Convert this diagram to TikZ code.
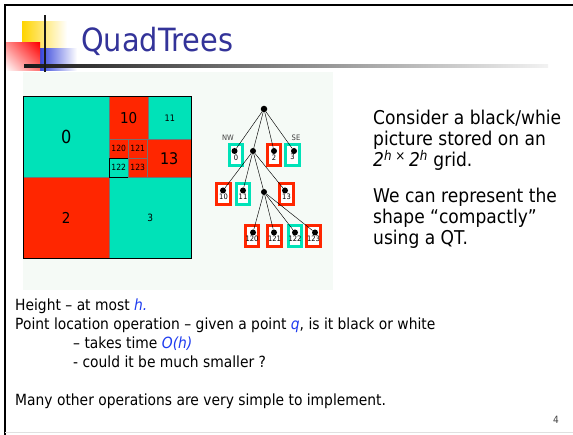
\documentclass[tikz,border=0pt]{standalone}
\usepackage{fontspec}
\setmainfont{DejaVu Sans}[FakeStretch=0.9]
\usetikzlibrary{positioning, calc, shadows, shadings}

\definecolor{qteal}{RGB}{0,226,184}
\definecolor{qred}{RGB}{255,38,0}
\definecolor{titleblue}{RGB}{51,51,153}
\definecolor{hiblue}{RGB}{30,60,240}
\definecolor{panelgreen}{RGB}{245,250,246}
\definecolor{decoyellow}{RGB}{255,212,0}
\definecolor{decoblue}{RGB}{55,70,220}

\newcommand{\fsz}[1]{\fontsize{#1}{#1}\selectfont}

\tikzset{
  cell/.style={draw=black!55, line width=0.5pt, anchor=north west, inner sep=0pt},
  blackcell/.style={cell, fill=qred},
  whitecell/.style={cell, fill=qteal},
  leaf/.style={draw=#1, line width=3pt, fill=white, minimum width=13.5pt, minimum height=21pt,
    inner xsep=0pt, inner ysep=3.5pt, text height=11.5pt, text depth=1.5pt, font=\fsz{7.5},
    drop shadow={shadow xshift=1.3pt, shadow yshift=-1.3pt, opacity=0.3}},
  dot/.style={circle, fill=black, inner sep=0pt, minimum size=6pt},
  branch/.style={line width=0.45pt},
  textline/.style={anchor=base west, inner sep=0pt},
}

\begin{document}
\begin{tikzpicture}[x=1pt, y=-1pt]
    \useasboundingbox (0,0) rectangle (573,435);
    \fill[white] (0,0) rectangle (573,435);

    % Slide frame
    \draw[line width=2pt] (5,435) -- (5,5.5) -- (573,5.5);
    \draw[black!12, line width=1pt] (5,432.5) -- (573,432.5);

    % Title decoration
    \shade[left color=decoyellow, middle color=decoyellow, right color=white] (22,22) rectangle (67,49);
    \shade[left color=decoblue, middle color=decoblue!60!white, right color=white] (40,49) rectangle (77,71);
    \shade[upper right=red, upper left=red!45!white, lower right=red!55!white, lower left=white] (6,43) rectangle (40,71);
    \shade[left color=black!90, middle color=black!65, right color=black!5] (24,65) rectangle (548,67.3);
    \fill[black!90] (43.7,15) rectangle (45.7,72);
    \node[anchor=base west, inner sep=0pt, font=\fsz{32}, text=titleblue] (title) at (81,52) {QuadTrees};

    % Picture panel
    \fill[panelgreen] (23,72) rectangle (333,290);

    % Grid
    \node[whitecell, minimum width=86pt, minimum height=81pt, font=\fsz{18}] (q0) at (23,96) {0};
    \node[blackcell, minimum width=86pt, minimum height=81pt, font=\fsz{15}] (q2) at (23,177) {2};
    \node[whitecell, minimum width=82pt, minimum height=81pt, font=\fsz{10}] (q3) at (109,177) {3};
    \node[blackcell, minimum width=39pt, minimum height=43pt, font=\fsz{15}] (q10) at (109,96) {10};
    \node[whitecell, minimum width=43pt, minimum height=43pt, font=\fsz{9}] (q11) at (148,96) {11};
    \node[blackcell, minimum width=19pt, minimum height=19pt, font=\fsz{8.5}] (q120) at (109,139) {120};
    \node[blackcell, minimum width=19pt, minimum height=19pt, font=\fsz{8.5}] (q121) at (128,139) {121};
    \node[whitecell, draw=black, minimum width=19pt, minimum height=19pt, font=\fsz{8.5}] (q122) at (109,158) {122};
    \node[blackcell, minimum width=19pt, minimum height=19pt, font=\fsz{8.5}] (q123) at (128,158) {123};
    \node[blackcell, minimum width=44pt, minimum height=38pt, font=\fsz{16}] (q13) at (147,139) {13};
    \draw[black, line width=0.6pt] (q0.north west) rectangle (q3.south east);

    % Tree: root and inner nodes
    \node[dot, minimum size=6.5pt] (root) at (264,109) {};
    \node[dot] (n1) at (253,151) {};
    \node[dot] (n12) at (264,192) {};

    % Tree: leaves
    \node[leaf=qteal] (b0) at (236,155.5) {0};
    \node[dot] (d0) at (234.5,151) {};
    \node[leaf=qred] (b2) at (274,155.5) {2};
    \node[dot] (d2) at (274,151) {};
    \node[leaf=qteal] (b3) at (292.5,155) {3};
    \node[dot] (d3) at (294,151) {};
    \node[leaf=qred] (b10) at (223.5,194.5) {10};
    \node[dot] (d10) at (223,190.5) {};
    \node[leaf=qteal] (b11) at (243,194.5) {11};
    \node[dot] (d11) at (243,190.5) {};
    \node[leaf=qred] (b13) at (286.5,194.5) {13};
    \node[dot] (d13) at (285,190.5) {};
    \node[leaf=qred] (b120) at (252,236.5) {120};
    \node[dot] (d120) at (253,232.5) {};
    \node[leaf=qred] (b121) at (274.5,236.5) {121};
    \node[dot] (d121) at (274,232.5) {};
    \node[leaf=qteal] (b122) at (295,236.5) {122};
    \node[dot] (d122) at (295,232.5) {};
    \node[leaf=qred] (b123) at (313.5,236.5) {123};
    \node[dot] (d123) at (315,232.5) {};

    \node[font=\fsz{7.5}, text=black!75] (nw) at (228,138) {NW};
    \node[font=\fsz{7.5}, text=black!75] (se) at (296,138) {SE};

    \draw[branch] (root) -- (d0);
    \draw[branch] (root) -- (n1);
    \draw[branch] (root) -- (d2);
    \draw[branch] (root) -- (d3);
    \draw[branch] (n1) -- (d10);
    \draw[branch] (n1) -- (d11);
    \draw[branch] (n1) -- (n12);
    \draw[branch] (n1) -- (d13);
    \draw[branch] (n12) -- (d120);
    \draw[branch] (n12) -- (d121);
    \draw[branch] (n12) -- (d122);
    \draw[branch] (n12) -- (d123);

    % Side text
    \node[textline, font=\fsz{19}] (c1) at (373,124.5) {Consider a black/whie};
    \node[textline, font=\fsz{19}] (c2) at (373,146) {picture stored on an};
    \node[textline, font=\fsz{19}] (c3) at (373,167) {\textit{2\textsuperscript{h}\,\textsuperscript{×}\,2\textsuperscript{h}} grid.};
    \node[textline, font=\fsz{19}] (r1) at (373,203) {We can represent the};
    \node[textline, font=\fsz{19}] (r2) at (373,224) {shape “compactly”};
    \node[textline, font=\fsz{19}] (r3) at (373,245) {using a QT.};

    % Bottom text
    \node[textline, font=\fsz{15.4}] (height) at (15,311) {Height – at most \textcolor{hiblue}{\textit{h.}}};
    \node[textline, font=\fsz{15.4}] (ploc) at (15,330) {Point location operation – given a point \textcolor{hiblue}{\textit{q}}, is it black or white};
    \node[textline, font=\fsz{15.4}] (ptime) at (73,349) {– takes time \textcolor{hiblue}{\textit{O(h)}}};
    \node[textline, font=\fsz{15.4}] (psmall) at (73,368) {- could it be much smaller ?};
    \node[textline, font=\fsz{15.4}] (many) at (15,406) {Many other operations are very simple to implement.};

    \node[font=\fsz{10}, text=black!75] (pagenum) at (556,420) {4};
\end{tikzpicture}
\end{document}
